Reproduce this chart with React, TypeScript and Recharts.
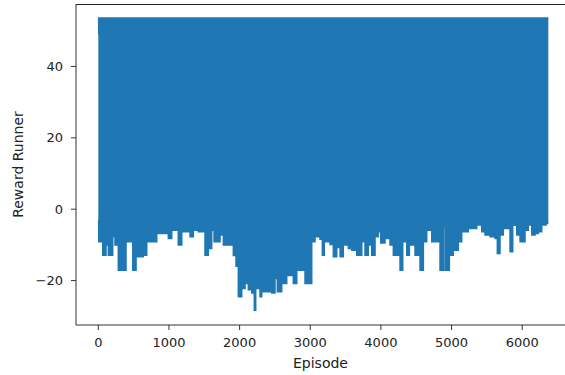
import { Area, AreaChart, XAxis, YAxis, usePlotArea } from 'recharts'

// lower / upper envelope of the (very dense) reward trace
const episodes = [
  0, 5, 62, 109, 142, 204, 236, 283, 392, 487, 534, 637, 685, 827, 991, 1039,
  1132, 1181, 1298, 1345, 1416, 1510, 1557, 1605, 1638, 1723, 1770, 1911, 1949, 1982,
  2030, 2077, 2123, 2172, 2208, 2228, 2289, 2313, 2455, 2501, 2534, 2596, 2667, 2760,
  2809, 2926, 3021, 3068, 3138, 3171, 3199, 3280, 3327, 3375, 3422, 3468, 3539, 3587,
  3658, 3729, 3775, 3822, 3870, 3917, 3964, 3998, 4058, 4129, 4176, 4271, 4309, 4366,
  4403, 4483, 4554, 4601, 4649, 4720, 4837, 4884, 4908, 4969, 5025, 5096, 5144, 5238,
  5357, 5427, 5474, 5545, 5616, 5648, 5686, 5733, 5828, 5866, 5923, 5970, 6040, 6087,
  6135, 6182, 6229, 6277, 6338, 6370,
]

const lowRewards = [
  -3, -9.1, -12.9, -10, -12.9, -7.7, -10, -17.1, -9.1, -17.1, -13.3, -12.9, -9.1, -6.8, -8.2, -5.9,
  -10, -6.3, -7.7, -5.9, -6.3, -12.9, -11, -5.9, -9.1, -7.2, -10, -13, -16, -24.5,
  -22.2, -20.8, -22.6, -23.5, -28.3, -22.2, -24.5, -23.1, -23.5, -19.4, -23.1, -20.8, -18.6, -20.8,
  -17.1, -20.8, -9.1, -7.7, -8.4, -12.9, -9.1, -9.9, -13.3, -10.7, -13.3, -10, -11, -11.5,
  -12.9, -9.1, -12.9, -10, -12.9, -7.7, -6.3, -9.5, -8.2, -10, -12.9, -17.1, -9.1, -12.9,
  -10, -12.9, -17.1, -9.1, -5.9, -9.1, -17.1, -5, -17.1, -12.9, -11.5, -9.1, -6.3, -5.4,
  -4.4, -6.3, -7.2, -7.7, -8.2, -12.4, -7.2, -5.4, -11.9, -4.5, -7.2, -9.1, -5.9, -4.4,
  -7.2, -6.8, -6.3, -4.4, -4, -4,
]

const highRewards = episodes.map((ep) => (ep === 0 ? 49 : 53.6))

const xTicks = [0, 1000, 2000, 3000, 4000, 5000, 6000]
const yTicks = [-20, 0, 20, 40]
const yDomain = [-32.45, 57.5]

const data = episodes.map((episode, i) => ({
  episode,
  reward: [lowRewards[i], highRewards[i]],
}))

const font = 'DejaVu Sans, sans-serif'
const axisColor = '#333'

// matplotlib draws a top spine too; recharts has no such axis line
function TopSpine() {
  const area = usePlotArea()
  if (!area) return null
  const y = Math.round(area.y) + 0.5
  return <path d={`M${area.x},${y}H${area.x + area.width}`} stroke="#222" strokeWidth={1.2} fill="none" />
}

export default function App() {
  return (
    <div style={{ position: 'absolute', left: 0, top: 0, background: '#fff' }}>
      <AreaChart width={565} height={375} data={data} margin={{ top: 4, right: 0, left: 0, bottom: 0 }}>
        <XAxis
          dataKey="episode"
          type="number"
          domain={[-316, 6606]}
          ticks={xTicks}
          allowDataOverflow
          height={50}
          tickSize={5}
          tickMargin={8}
          stroke={axisColor}
          tick={{ fill: '#222', fontSize: 13, fontFamily: font }}
          label={{ value: 'Episode', position: 'insideBottom', offset: 7, fill: '#222', fontSize: 14, fontFamily: font }}
        />
        <YAxis
          type="number"
          domain={yDomain}
          ticks={yTicks}
          allowDataOverflow
          width={76}
          tickSize={5}
          tickMargin={8}
          stroke={axisColor}
          tickFormatter={(v: number) => (v < 0 ? '\u2212' + Math.abs(v) : String(v))}
          tick={{ fill: '#222', fontSize: 13, fontFamily: font }}
          label={{
            value: 'Reward Runner',
            angle: -90,
            position: 'insideLeft',
            offset: 18,
            fill: '#222',
            fontSize: 14,
            fontFamily: font,
            style: { textAnchor: 'middle' },
          }}
        />
        <Area
          dataKey="reward"
          type="stepAfter"
          stroke="#1f77b4"
          strokeWidth={1.5}
          fill="#1f77b4"
          fillOpacity={1}
          isAnimationActive={false}
          dot={false}
          activeDot={false}
        />
        <TopSpine />
      </AreaChart>
    </div>
  )
}
